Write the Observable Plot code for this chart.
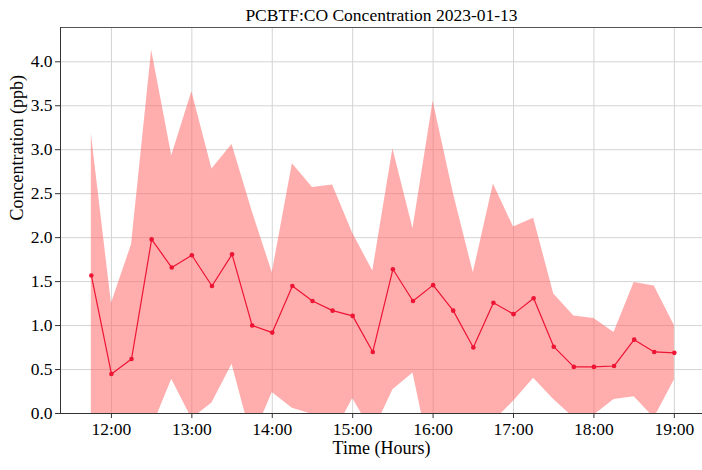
<!DOCTYPE html>
<html>
<head>
<meta charset="utf-8">
<script src="https://cdn.jsdelivr.net/npm/d3@7"></script>
<script src="https://cdn.jsdelivr.net/npm/@observablehq/plot@0.6"></script>
<style>
  html, body { margin: 0; padding: 0; background: #fff; }
  #chart svg { display: block; }
  #chart svg text, #chart svg g {
    font-family: 'Liberation Serif', 'Times New Roman', Times, serif !important;
    font-variant: normal !important;
    font-variant-numeric: normal !important;
  }
</style>
</head>
<body>
<div id="chart"></div>
<script>
// 15-minute averages of PCBTF:CO on 2023-01-13 (ppb), with standard deviation
const times = ["11:45","12:00","12:15","12:30","12:45","13:00","13:15","13:30","13:45","14:00",
               "14:15","14:30","14:45","15:00","15:15","15:30","15:45","16:00","16:15","16:30",
               "16:45","17:00","17:15","17:30","17:45","18:00","18:15","18:30","18:45","19:00"];
const meanPpb = [1.57, 0.45, 0.62, 1.98, 1.66, 1.80, 1.45, 1.81, 1.00, 0.92,
                 1.45, 1.28, 1.17, 1.11, 0.70, 1.64, 1.28, 1.46, 1.17, 0.75,
                 1.26, 1.13, 1.31, 0.76, 0.53, 0.53, 0.54, 0.84, 0.70, 0.69];
const sdPpb   = [1.61, 0.80, 1.30, 2.15, 1.27, 1.86, 1.33, 1.25, 1.30, 0.68,
                 1.39, 1.29, 1.43, 0.94, 0.92, 1.37, 0.82, 2.09, 1.34, 0.85,
                 1.35, 0.99, 0.91, 0.60, 0.58, 0.55, 0.38, 0.65, 0.75, 0.31];
const yTicks = [0, 0.5, 1, 1.5, 2, 2.5, 3, 3.5, 4];
const xTickLabels = ["12:00","13:00","14:00","15:00","16:00","17:00","18:00","19:00"];

const day = "2023-01-13";
const toDate = (hm) => new Date(`${day}T${hm}:00Z`);

const rows = times.map((t, i) => ({
  time: toDate(t),
  mean: meanPpb[i],
  lo: meanPpb[i] - sdPpb[i],
  hi: meanPpb[i] + sdPpb[i]
}));

const xDomain = [toDate("11:22"), toDate("19:21")];
const yDomain = [0, 4.39];

const serif = "'Liberation Serif', 'Times New Roman', Times, serif";
const lineColor = "#ee1434";

const chart = Plot.plot({
  width: 702,
  height: 470,
  marginLeft: 60,
  marginRight: 0,
  marginTop: 27,
  marginBottom: 57,
  style: { fontFamily: serif, fontSize: "17px", color: "#111", background: "#fff" },
  x: { type: "utc", domain: xDomain },
  y: { domain: yDomain },
  marks: [
    // grid
    Plot.gridY(yTicks, { stroke: "#d4d4d4", strokeOpacity: 1, strokeWidth: 1 }),
    Plot.gridX(xTickLabels.map(toDate), { stroke: "#d4d4d4", strokeOpacity: 1, strokeWidth: 1 }),
    // ±1 sd band
    Plot.areaY(rows, { x: "time", y1: "lo", y2: "hi", fill: "#ff5c5c", fillOpacity: 0.5, clip: true }),
    // mean line with points
    Plot.lineY(rows, { x: "time", y: "mean", stroke: lineColor, strokeWidth: 1.2 }),
    Plot.dot(rows, { x: "time", y: "mean", r: 2.3, fill: lineColor, stroke: "none" }),
    // frame lines
    Plot.ruleY([yDomain[1]], { stroke: "#555", strokeWidth: 1 }),
    Plot.ruleX([xDomain[0]], { stroke: "#333", strokeWidth: 1 }),
    Plot.ruleY([0], { stroke: "#333", strokeWidth: 1 }),
    // axes
    Plot.axisY(yTicks, {
      tickFormat: d3.format(".1f"), tickSize: 5, tickPadding: 3,
      fontSize: 17.5, fontFamily: serif, fontVariant: "normal", fill: "#000", label: null, stroke: "#333"
    }),
    Plot.axisX(xTickLabels.map(toDate), {
      tickFormat: d3.utcFormat("%H:%M"), tickSize: 5, tickPadding: 4,
      fontSize: 17.5, fontFamily: serif, fontVariant: "normal", fill: "#000", label: null, stroke: "#333"
    }),
    // titles
    Plot.text(["PCBTF:CO Concentration 2023-01-13"], {
      frameAnchor: "top", lineAnchor: "bottom", dy: -7, fontSize: 17.5, fontFamily: serif, fill: "#000", text: d => d
    }),
    Plot.text(["Time (Hours)"], {
      frameAnchor: "bottom", dy: 40, fontSize: 18, fontFamily: serif, fill: "#000", text: d => d
    }),
    Plot.text(["Concentration (ppb)"], {
      frameAnchor: "left", dx: -43, rotate: -90, fontSize: 18, fontFamily: serif, fill: "#000", text: d => d
    })
  ]
});

document.getElementById("chart").appendChild(chart);
</script>
</body>
</html>
